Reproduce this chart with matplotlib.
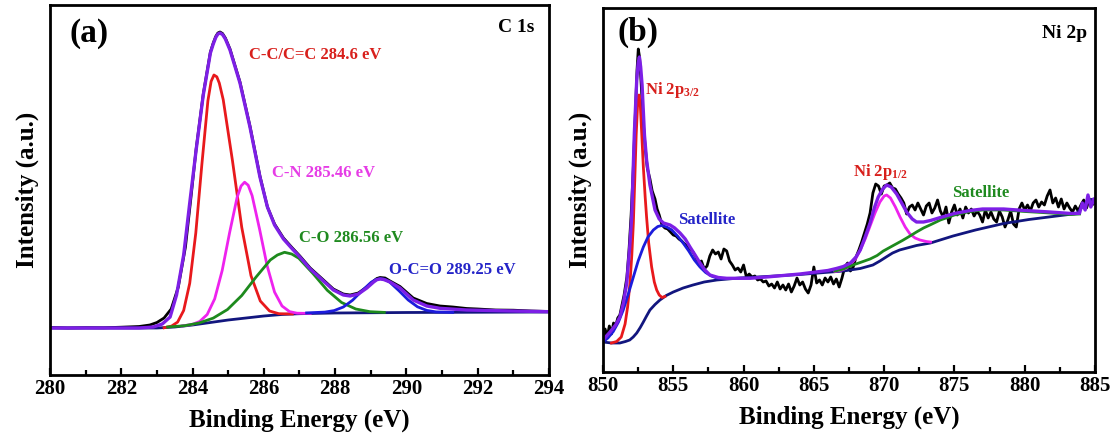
import matplotlib
matplotlib.use('Agg')
import matplotlib.pyplot as plt
from matplotlib.ticker import MultipleLocator

plt.rcParams['font.family'] = ['Liberation Serif', 'DejaVu Serif']
plt.rcParams['font.weight'] = 'bold'
plt.rcParams['mathtext.fontset'] = 'custom'
plt.rcParams['mathtext.rm'] = 'Liberation Serif:bold'
plt.rcParams['mathtext.bf'] = 'Liberation Serif:bold'
plt.rcParams['mathtext.it'] = 'Liberation Serif:bold'
plt.rcParams['mathtext.default'] = 'bf'
plt.rcParams['lines.solid_joinstyle'] = 'round'

# ---- (a) C 1s : curves as (binding energy, intensity) ----
c_raw = [(280, 47.5), (280.5, 47), (281, 47.3), (281.5, 47.2), (282, 47.8), (282.5, 48.5),
         (282.8, 50), (283.0, 52.5), (283.2, 57), (283.4, 66), (283.6, 88), (283.8, 128),
         (283.95, 176), (284.1, 226), (284.3, 281), (284.5, 323), (284.58, 332), (284.65, 338.5),
         (284.71, 342), (284.77, 343), (284.84, 341.5), (284.92, 337), (285.05, 326), (285.33, 293),
         (285.61, 249), (285.89, 199), (286.1, 168), (286.3, 151), (286.55, 137), (286.8, 127),
         (287.01, 119), (287.3, 107), (287.58, 98), (287.95, 86), (288.23, 81), (288.42, 80),
         (288.65, 82), (288.89, 88), (289.08, 94), (289.17, 96.5), (289.26, 97.5), (289.4, 97),
         (289.54, 94), (289.82, 88.5), (290.19, 77), (290.57, 71.5), (290.94, 69), (291.3, 68),
         (291.69, 66.5), (292, 66), (292.5, 65), (293, 64.8), (293.5, 64), (294, 63.5)]
c_env = [(280, 47), (282.5, 47), (282.9, 48), (283.15, 51), (283.37, 58), (283.55, 80),
         (283.75, 120), (283.93, 175), (284.1, 225), (284.3, 280), (284.5, 322), (284.58, 331),
         (284.65, 337.5), (284.71, 341), (284.77, 342), (284.84, 340.5), (284.92, 336),
         (285.05, 325), (285.33, 292), (285.61, 248), (285.89, 198), (286.1, 168), (286.3, 150),
         (286.55, 136), (286.8, 126), (287.01, 118), (287.3, 106), (287.58, 97), (287.95, 85),
         (288.23, 80), (288.42, 79), (288.65, 81), (288.89, 87), (289.08, 93), (289.17, 95.3),
         (289.26, 96), (289.36, 95.5), (289.54, 93), (289.82, 87), (290.19, 75), (290.57, 69),
         (290.94, 66.7), (291.69, 65), (293, 64), (294, 63.3)]
c_base = [(280, 47), (283, 47), (283.5, 48), (284, 50), (284.5, 52.5), (285, 55), (285.5, 57),
          (286, 59), (286.5, 60.5), (287, 61.3), (288, 62), (290, 62.5), (294, 63)]
c_cc = [(283.2, 47.2), (283.41, 48.9), (283.58, 52.9), (283.75, 64.5), (283.92, 91.7),
        (284.09, 141.9), (284.26, 210.3), (284.43, 274.2), (284.52, 293.6), (284.6, 300),
        (284.68, 298.2), (284.75, 291.9), (284.86, 275.3), (285.12, 214.1), (285.38, 147.6),
        (285.64, 99.2), (285.9, 74), (286.16, 64), (286.42, 61.3), (286.8, 61)]
c_cn = [(283.7, 49), (283.99, 50.6), (284.2, 53.5), (284.41, 60.5), (284.62, 76.1), (284.83, 104.4),
        (285.04, 142.5), (285.25, 177.7), (285.36, 189), (285.46, 192.8), (285.56, 189.8),
        (285.67, 179.4), (285.88, 145.8), (286.09, 109.5), (286.3, 82.9), (286.51, 69),
        (286.72, 63.4), (286.93, 61.8), (287.3, 61.6)]
c_co = [(283.3, 48), (283.78, 49.3), (284.18, 52), (284.58, 56.9), (284.98, 65.5), (285.38, 79.5),
        (285.78, 97.9), (286.18, 115), (286.38, 120), (286.58, 122.7), (286.78, 121),
        (286.98, 116.8), (287.38, 101.4), (287.78, 84.7), (288.18, 72.5), (288.58, 66),
        (288.98, 63.3), (289.38, 62.6)]
c_oco = [(287.2, 62.1), (287.71, 62.9), (287.97, 64.4), (288.23, 68.0), (288.49, 74.8),
         (288.75, 84.1), (289.01, 92.7), (289.14, 95.4), (289.27, 96.4), (289.4, 95.6),
         (289.53, 92.9), (289.79, 84.3), (290.05, 75.0), (290.31, 68.2), (290.57, 64.6),
         (290.83, 63.1), (291.3, 62.6)]

# ---- (b) Ni 2p ----
ni_raw = [(850.0, 34), (850.15, 46), (850.3, 38), (850.45, 49), (850.6, 41), (850.75, 52),
          (850.9, 49), (851.05, 57), (851.2, 60), (851.35, 70), (851.5, 80), (851.7, 98),
          (851.85, 125), (852.0, 160), (852.15, 205), (852.3, 262), (852.42, 305), (852.51, 326),
          (852.6, 318), (852.72, 290), (852.85, 255), (853.0, 228), (853.15, 207), (853.34, 196),
          (853.5, 184), (853.7, 176), (853.85, 166), (854.0, 160), (854.2, 150), (854.4, 147),
          (854.6, 146), (854.8, 143),
          (855.0, 140), (855.2, 139), (855.4, 136), (855.6, 134), (855.8, 131), (856.0, 129),
          (856.2, 126), (856.4, 123), (856.6, 118), (856.8, 111), (857.0, 114), (857.2, 106),
          (857.4, 109), (857.6, 119), (857.8, 125), (858.0, 121), (858.2, 123), (858.4, 116),
          (858.6, 126), (858.8, 124), (859.0, 114), (859.2, 110), (859.4, 105), (859.6, 107),
          (859.8, 103), (860.0, 110), (860.2, 98), (860.4, 101), (860.6, 98), (860.8, 99),
          (861.0, 95), (861.2, 96), (861.4, 93), (861.6, 94), (861.8, 89), (862.0, 91),
          (862.2, 87), (862.4, 93), (862.6, 86), (862.8, 90), (863.0, 85), (863.2, 91),
          (863.4, 83), (863.6, 89), (863.8, 97), (864.0, 90), (864.2, 93), (864.4, 86),
          (864.6, 82), (864.8, 90), (865.0, 108), (865.2, 92), (865.4, 95), (865.6, 90),
          (865.8, 97), (866.0, 93), (866.2, 98), (866.4, 91), (866.6, 96), (866.8, 88),
          (867.0, 97), (867.2, 108), (867.4, 112), (867.6, 104), (867.8, 108), (868.0, 118),
          (868.2, 125), (868.4, 133), (868.6, 142), (868.8, 151), (869.0, 162), (869.2, 182),
          (869.4, 191), (869.6, 189), (869.8, 181), (870.0, 189), (870.2, 190), (870.4, 192),
          (870.6, 187), (870.8, 186), (871.0, 181), (871.2, 177), (871.4, 172), (871.6, 161),
          (871.8, 168), (872.0, 170), (872.2, 165), (872.4, 172), (872.6, 166), (872.8, 160),
          (873.0, 169), (873.2, 172), (873.4, 162), (873.6, 167), (873.8, 175), (874.0, 164),
          (874.2, 158), (874.4, 168), (874.6, 152), (874.8, 163), (875.0, 170), (875.2, 160),
          (875.4, 166), (875.6, 157), (875.8, 168), (876.0, 162), (876.2, 166), (876.4, 159),
          (876.6, 164), (876.8, 160), (877.0, 153), (877.2, 165), (877.4, 157), (877.6, 163),
          (877.8, 156), (878.0, 153), (878.2, 164), (878.4, 158), (878.6, 148), (878.8, 155),
          (879.0, 164), (879.2, 151), (879.4, 148), (879.6, 166), (879.8, 172), (880.0, 165),
          (880.2, 170), (880.4, 164), (880.6, 172), (880.8, 175), (881.0, 168), (881.2, 173),
          (881.4, 170), (881.6, 179), (881.8, 185), (882.0, 172), (882.2, 177), (882.4, 168),
          (882.6, 176), (882.8, 166), (883.0, 172), (883.2, 167), (883.4, 163), (883.6, 169),
          (883.8, 164), (884.0, 170), (884.2, 175), (884.4, 167), (884.6, 176), (884.8, 170),
          (885.0, 174)]
ni_env = [(850, 35), (850.5, 43), (850.9, 50), (851.2, 58), (851.45, 72), (851.69, 92),
          (851.9, 128), (852.04, 158), (852.23, 242), (852.4, 295), (852.5, 312), (852.59, 318),
          (852.68, 308), (852.78, 290), (852.95, 240), (853.1, 215), (853.34, 190), (853.7, 165),
          (854.0, 156), (854.3, 152), (854.77, 150), (855.1, 147), (855.48, 142), (855.85, 136),
          (856.19, 128), (856.55, 120), (856.9, 112), (857.25, 105), (857.6, 100), (858.2, 97.5),
          (858.8, 96.7), (860.46, 96.7), (861.88, 98.3), (864, 101), (866, 104.5), (866.6, 106.5),
          (867.1, 108.5), (867.6, 112), (868.0, 118), (868.3, 125), (868.65, 138), (869.0, 152),
          (869.3, 167), (869.58, 178), (869.9, 186), (870.18, 190), (870.5, 188), (870.89, 181),
          (871.25, 172), (871.6, 163), (872.0, 156), (872.3, 153), (872.8, 153), (873.3, 154.5),
          (874, 157.5), (875, 161.5), (876.1, 164.5), (877, 166), (878.5, 166), (880, 164.5),
          (881.8, 163), (883.3, 161.5), (883.9, 161.7), (884.1, 172), (884.3, 165), (884.5, 180),
          (884.7, 168), (884.9, 176), (885, 172)]
ni_base = [(850, 33), (850.6, 32), (851.2, 32), (851.6, 33.5), (851.9, 35), (852.15, 38),
           (852.4, 42), (852.65, 47.5), (852.87, 53), (853.1, 59), (853.34, 65), (853.7, 70.5),
           (854.05, 75), (854.5, 79.5), (855, 83), (855.7, 87), (856.4, 90), (857.2, 93),
           (858.1, 95), (859.7, 97), (861.6, 98.5), (864, 100.5), (867.1, 104), (868.3, 106.5),
           (869.2, 110), (869.7, 114), (870.2, 118.5), (870.6, 122), (871.1, 125), (872.3, 129.5),
           (873.3, 132), (874.9, 139), (876.5, 145), (878.5, 151.5), (880.3, 155.5), (882, 158.5),
           (883.7, 161.5), (884.2, 170), (884.5, 175), (885, 176)]
ni_p32 = [(850.6, 32), (850.97, 33.5), (851.3, 38), (851.57, 51), (851.75, 68), (851.92, 92),
          (852.05, 120), (852.16, 152), (852.26, 195), (852.36, 240), (852.46, 270), (852.56, 280),
          (852.66, 268), (852.76, 240), (852.87, 208), (853.0, 178), (853.1, 158), (853.25, 132),
          (853.46, 108), (853.65, 93), (853.82, 85), (854.0, 80), (854.2, 77.5), (854.4, 78.5)]
ni_sat1 = [(850, 33), (850.35, 37), (850.73, 43.5), (851.1, 53), (851.44, 65), (851.8, 81),
           (852.16, 98), (852.5, 114), (852.87, 128), (853.2, 138), (853.58, 145), (853.9, 148.5),
           (854.18, 149.5), (854.53, 148), (854.9, 145), (855.3, 139), (855.7, 132), (856.1, 124),
           (856.5, 115), (856.9, 108), (857.3, 102.5), (857.7, 99), (858.1, 97), (858.6, 96.5),
           (859.2, 96.5)]
ni_p12 = [(866.5, 103.5), (867.0, 105), (867.34, 107), (867.7, 112), (868.0, 117), (868.3, 125),
          (868.65, 136), (869.0, 149), (869.35, 162), (869.7, 173), (870.0, 179), (870.18, 180),
          (870.45, 177), (870.8, 168), (871.13, 158), (871.5, 148), (871.84, 141), (872.2, 137),
          (872.55, 135), (873.0, 133.5), (873.3, 133)]
ni_sat2 = [(866.5, 104), (867.1, 106), (867.57, 109), (868.3, 112.5), (869.0, 116), (869.5, 119.5),
           (869.94, 124), (870.65, 129.5), (871.3, 134.5), (871.84, 139), (872.3, 143), (872.8, 147),
           (873.26, 150), (874, 155), (875, 160), (876.1, 163.5), (877, 165), (878.5, 165),
           (880, 163.5), (881.8, 162), (883.3, 160.5), (883.9, 161)]

RED, MAG, GRN, BLU, NAVY, PURP = '#e8191c', '#ee22ee', '#1d8a1d', '#1c1cdc', '#12167e', '#7d1fe6'


def xy(pairs):
    return [p[0] for p in pairs], [p[1] for p in pairs]


def style_axes(ax, xlim, ylim, major, minor):
    ax.set_xlim(*xlim)
    ax.set_ylim(*ylim)
    ax.xaxis.set_major_locator(MultipleLocator(major))
    ax.xaxis.set_minor_locator(MultipleLocator(minor))
    ax.tick_params(axis='x', which='major', direction='in', length=5, width=1.6,
                   labelsize=15, pad=3, top=False)
    ax.tick_params(axis='x', which='minor', direction='in', length=3.5, width=1.6, top=False)
    ax.set_yticks([])
    for s in ax.spines.values():
        s.set_linewidth(2.0)
    ax.set_xlabel('Binding Energy (eV)', fontsize=18, fontweight='bold', labelpad=7)
    ax.set_ylabel('Intensity (a.u.)', fontsize=18, fontweight='bold', labelpad=8)


fig = plt.figure(figsize=(11.19, 4.36), dpi=100)
ax1 = fig.add_axes([50 / 1119, 1 - 375 / 436, 499 / 1119, 370 / 436])
ax2 = fig.add_axes([603 / 1119, 1 - 372 / 436, 492 / 1119, 364 / 436])

# panel (a)
ax1.plot(*xy(c_raw), color='black', lw=2.0)
ax1.plot(*xy(c_base), color=NAVY, lw=2.0)
ax1.plot(*xy(c_cc), color=RED, lw=2.0)
ax1.plot(*xy(c_cn), color=MAG, lw=2.0)
ax1.plot(*xy(c_co), color=GRN, lw=2.0)
ax1.plot(*xy(c_oco), color=BLU, lw=2.0)
ax1.plot(*xy(c_env), color=PURP, lw=2.4)
style_axes(ax1, (280, 294), (0, 370), 2, 1)
ax1.text(0.04, 0.922, '(a)', transform=ax1.transAxes, fontsize=24, fontweight='bold',
         ha='left', va='center')
ax1.text(0.970, 0.938, 'C 1s', transform=ax1.transAxes, fontsize=14, fontweight='bold',
         ha='right', va='center')
ax1.text(285.58, 320, 'C-C/C=C 284.6 eV', color='#d8201c', fontsize=12, ha='left', va='center')
ax1.text(286.23, 202, 'C-N 285.46 eV', color='#e63ce6', fontsize=12, ha='left', va='center')
ax1.text(286.99, 137, 'C-O 286.56 eV', color='#1f8a1f', fontsize=12, ha='left', va='center')
ax1.text(289.51, 105, 'O-C=O 289.25 eV', color='#2424c8', fontsize=12, ha='left', va='center')

# panel (b)
ax2.plot(*xy(ni_raw), color='black', lw=2.0)
ax2.plot(*xy(ni_base), color=NAVY, lw=2.0)
ax2.plot(*xy(ni_p32), color=RED, lw=2.0)
ax2.plot(*xy(ni_sat1), color=BLU, lw=2.0)
ax2.plot(*xy(ni_p12), color=MAG, lw=2.0)
ax2.plot(*xy(ni_sat2), color=GRN, lw=2.0)
ax2.plot(*xy(ni_env), color=PURP, lw=2.4)
style_axes(ax2, (850, 885), (3, 367), 5, 2.5)
ax2.text(0.03, 0.934, '(b)', transform=ax2.transAxes, fontsize=24, fontweight='bold',
         ha='left', va='center')
ax2.text(0.984, 0.931, 'Ni 2p', transform=ax2.transAxes, fontsize=14, fontweight='bold',
         ha='right', va='center')
ax2.text(852.99, 285, r'Ni 2p$_{3/2}$', color='#d8201c', fontsize=12, ha='left', va='center')
ax2.text(855.34, 155, 'Satellite', color='#2424c8', fontsize=12, ha='left', va='center')
ax2.text(867.78, 203, r'Ni 2p$_{1/2}$', color='#d8201c', fontsize=12, ha='left', va='center')
ax2.text(874.83, 182, 'Satellite', color='#1f8a1f', fontsize=12, ha='left', va='center')

fig.savefig('out.png', dpi=100)
